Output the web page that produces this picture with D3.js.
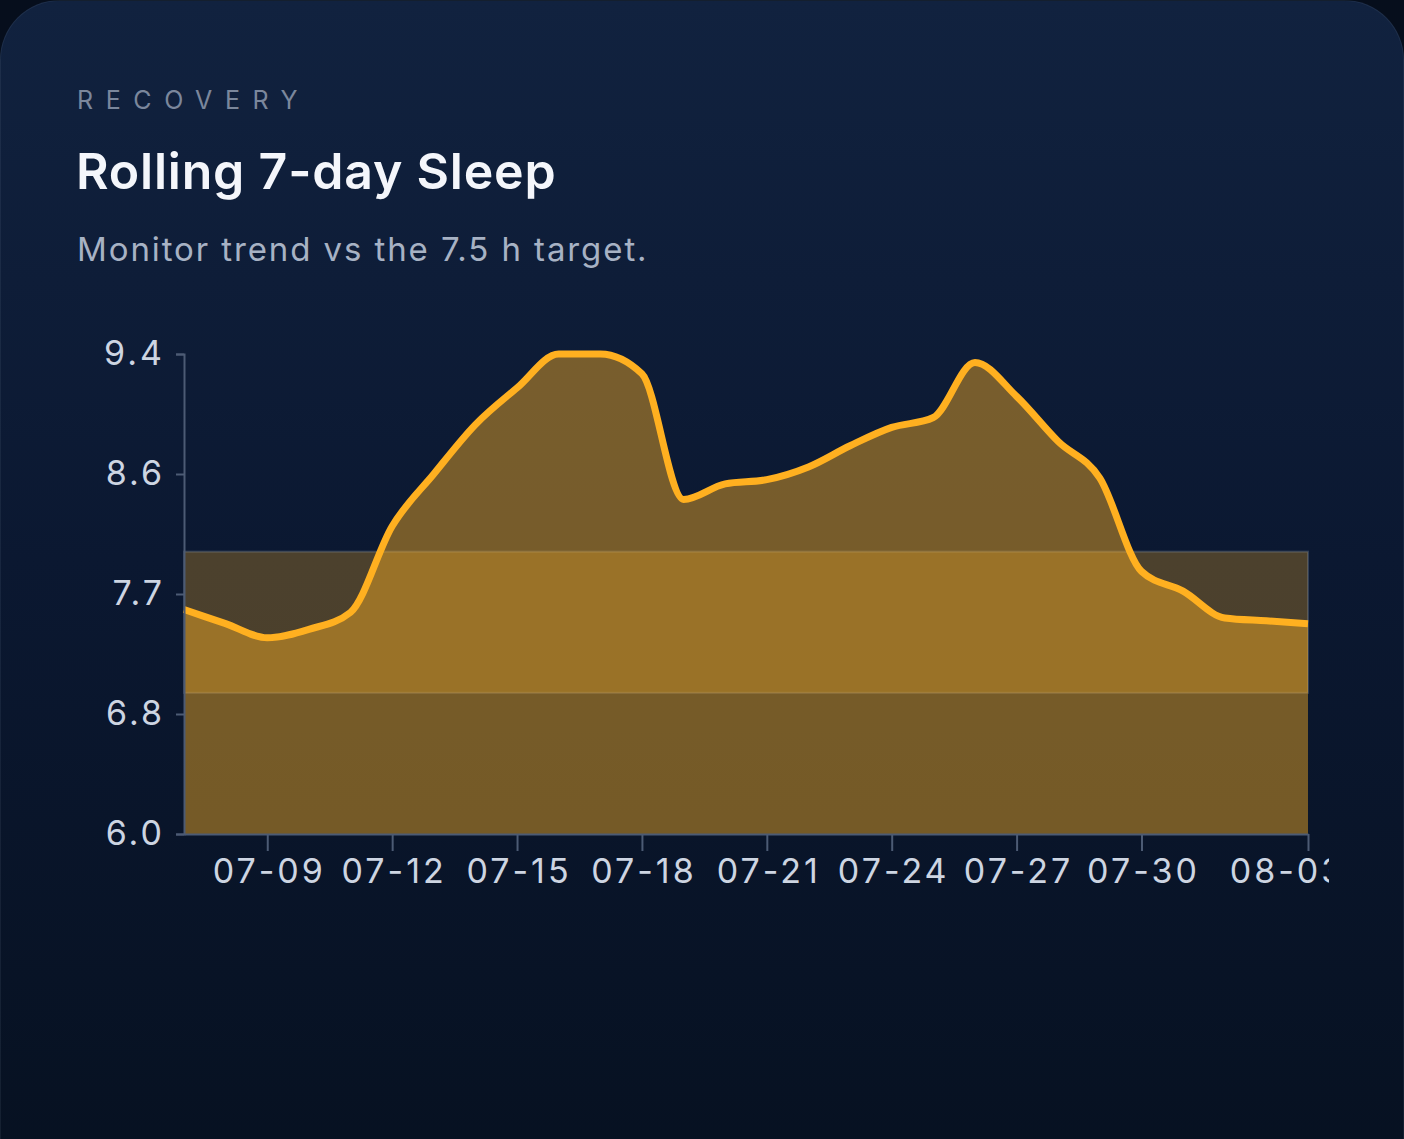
<!DOCTYPE html>
<html>
<head>
<meta charset="utf-8">
<script src="https://cdn.jsdelivr.net/npm/d3@7"></script>
<style>
  html, body { margin: 0; padding: 0; }
  body {
    width: 1404px; height: 1139px; overflow: hidden;
    background: #060e1c;
    font-family: Inter, "Noto Sans", sans-serif;
  }
  .card {
    position: absolute; left: 0; top: 0;
    width: 1402px; height: 1240px;
    border-radius: 60px;
    border: 1px solid rgba(148,163,184,0.10);
    background: linear-gradient(180deg, #11223f 0%, #0b1831 45%, #06101f 100%);
  }
  .eyebrow {
    position: absolute; left: 76px; top: 84px;
    font-size: 25px; letter-spacing: 12.6px; color: #7b879c;
  }
  .title {
    position: absolute; left: 75px; top: 140px;
    font-size: 50px; font-weight: 600; color: #f4f6fb; letter-spacing: 0.8px;
  }
  .subtitle {
    position: absolute; left: 76px; top: 228px;
    font-size: 33px; color: #a7b2c4; letter-spacing: 1.9px;
  }
  #chart { position: absolute; left: 75px; top: -1px; overflow: hidden; }
</style>
</head>
<body>
<div class="card">
  <div class="eyebrow">RECOVERY</div>
  <div class="title">Rolling 7-day Sleep</div>
  <div class="subtitle">Monitor trend vs the 7.5 h target.</div>
  <svg id="chart"></svg>
</div>
<script>
// rolling 7-day sleep (hours)
const dates = [
  "2024-07-07","2024-07-08","2024-07-09","2024-07-10","2024-07-11","2024-07-12","2024-07-13",
  "2024-07-14","2024-07-15","2024-07-16","2024-07-17","2024-07-18","2024-07-19","2024-07-20",
  "2024-07-21","2024-07-22","2024-07-23","2024-07-24","2024-07-25","2024-07-26","2024-07-27",
  "2024-07-28","2024-07-29","2024-07-30","2024-07-31","2024-08-01","2024-08-02","2024-08-03"
];
const sleepHours = [
  7.59, 7.49, 7.39, 7.45, 7.57, 8.18, 8.55,
  8.90, 9.16, 9.40, 9.40, 9.26, 8.37, 8.48,
  8.51, 8.60, 8.75, 8.88, 8.95, 9.34, 9.10,
  8.78, 8.52, 7.86, 7.72, 7.53, 7.51, 7.49
];
const targetBand = [7.0, 8.0];
const yMin = 6.0;
const xTickDates = [
  "2024-07-09","2024-07-12","2024-07-15","2024-07-18","2024-07-21",
  "2024-07-24","2024-07-27","2024-07-30","2024-08-03"
];

const parse = d3.timeParse("%Y-%m-%d");
const data = dates.map((d, i) => ({ date: parse(d), value: sleepHours[i] }));

const config = {
  width: 1253,
  height: 1139,
  margin: { top: 354, right: 21, bottom: 305, left: 108 }
};

const svg = d3.select('#chart')
  .attr('width', config.width)
  .attr('height', config.height);

const innerW = config.width - config.margin.left - config.margin.right;
const innerH = config.height - config.margin.top - config.margin.bottom;

const chart = svg.append('g')
  .attr('transform', `translate(${config.margin.left}, ${config.margin.top})`);

const x = d3.scaleTime()
  .domain(d3.extent(data, d => d.date))
  .range([0, innerW]);

const yMax = d3.max(sleepHours);
const y = d3.scaleLinear()
  .domain([yMin, yMax])
  .range([innerH, 0]);

// target band
chart.append('rect')
  .attr('x', 0)
  .attr('width', innerW)
  .attr('y', y(targetBand[1]))
  .attr('height', y(targetBand[0]) - y(targetBand[1]))
  .attr('fill', '#fbb024')
  .attr('fill-opacity', 0.27)
  .attr('stroke', 'rgba(148,163,184,0.28)')
  .attr('stroke-width', 2);

const area = d3.area()
  .x(d => x(d.date))
  .y0(y(yMin))
  .y1(d => y(d.value))
  .curve(d3.curveMonotoneX);

const line = d3.line()
  .x(d => x(d.date))
  .y(d => y(d.value))
  .curve(d3.curveMonotoneX);

chart.append('path')
  .datum(data)
  .attr('d', area)
  .attr('fill', '#fbb024')
  .attr('fill-opacity', 0.45);

chart.append('path')
  .datum(data)
  .attr('d', line)
  .attr('fill', 'none')
  .attr('stroke', '#ffb020')
  .attr('stroke-width', 7)
  .attr('stroke-linejoin', 'round')
  .attr('stroke-linecap', 'butt');

// axes
const yTicks = d3.range(5).map(i => yMin + (yMax - yMin) * i / 4);
const yAxis = d3.axisLeft(y)
  .tickValues(yTicks)
  .tickFormat(d => d.toFixed(1))
  .tickSize(8)
  .tickPadding(14);

const xFmt = d3.timeFormat("%m-%d");
const xAxis = d3.axisBottom(x)
  .tickValues(xTickDates.map(parse))
  .tickFormat(xFmt)
  .tickSize(17)
  .tickSizeOuter(0)
  .tickPadding(8);

const gy = chart.append('g').call(yAxis);
const gx = chart.append('g')
  .attr('transform', `translate(0, ${innerH})`)
  .call(xAxis);

[gx, gy].forEach(g => {
  g.selectAll('path, line').attr('stroke', '#4c5b74').attr('stroke-width', 2);
  g.selectAll('text')
    .attr('fill', '#cdd5e2')
    .style('font-family', 'Inter, "Noto Sans", sans-serif')
    .style('font-size', '34px')
    .style('letter-spacing', '3px');
});
gy.selectAll('.tick text').attr('dx', 3);

// last label sits a little left of its tick
gx.selectAll('.tick text')
  .attr('dx', (d, i, n) => i === n.length - 1 ? -21 : 1.5);
</script>
</body>
</html>
